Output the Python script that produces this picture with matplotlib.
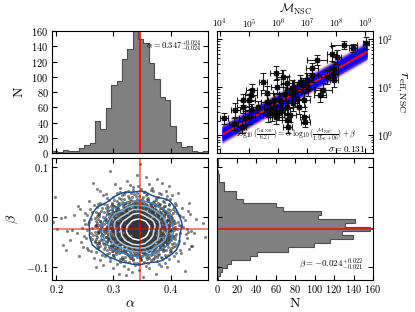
import numpy as np
import matplotlib.pyplot as plt

plt.rcParams['font.family'] = ['cmr10', 'DejaVu Serif']
plt.rcParams['mathtext.fontset'] = 'cm'
plt.rcParams['axes.formatter.use_mathtext'] = True
plt.rcParams['font.size'] = 7

# best fit + reference normalisation
alpha_fit, beta_fit, sigma_fit = 0.347, -0.024, 0.131
r_norm, m_norm = 6.27, 1.95e6

# marginal histograms of the posterior (counts)
alpha_counts = [3, 1, 4, 2, 3, 6, 11, 13, 42, 31, 59, 89, 95, 123, 137,
                162, 150, 144, 118, 97, 74, 70, 35, 15, 8, 9, 2, 1, 3]
alpha_range = (0.193, 0.465)
# ascending beta
beta_counts = [1, 3, 5, 10, 14, 34, 41, 73, 99, 116, 139, 128, 157, 131, 141,
               104, 107, 68, 60, 27, 19, 19, 7, 7, 2, 2, 1, 0, 1, 1]
beta_range = (-0.126, 0.118)

# NSC data (log10 mass, log10 r_eff) and errors in dex
log_mass = [9.03, 8.28, 8.58, 7.85, 8.02, 7.34, 7.16, 7.93, 7.68, 7.90,
            7.93, 5.48, 5.93, 6.17, 6.31, 5.96, 6.47, 6.76, 6.86, 7.03,
            5.09, 5.06, 5.01, 4.78, 4.53, 4.79, 5.06, 5.31, 5.61, 5.72,
            5.90, 6.07, 6.13, 6.30, 6.53, 6.67, 6.73, 6.90, 6.41, 6.30,
            6.33, 6.90, 6.94, 7.56, 7.45, 4.86, 5.01, 4.75, 4.48, 4.14,
            5.67, 5.78, 5.93, 6.03, 5.86, 5.61, 6.24, 6.59, 6.99, 7.16]
log_reff = [1.92, 1.88, 1.81, 1.70, 1.63, 1.56, 1.39, 1.37, 1.21, 1.27,
            1.15, 1.11, 1.29, 1.21, 1.08, 1.01, 0.99, 1.11, 1.04, 0.97,
            0.94, 0.83, 0.73, 0.74, 0.52, 0.58, 0.52, 0.59, 0.69, 0.52,
            0.59, 0.73, 0.52, 0.59, 0.66, 0.76, 0.59, 0.73, 0.42, 0.31,
            0.17, 0.38, 0.28, 0.94, 0.83, 0.35, 0.38, 0.17, 0.23, 0.35,
            0.42, 0.45, 0.38, 0.47, 0.73, 0.87, 0.85, 0.90, 1.15, 1.25]
log_mass_err = [0.10, 0.45, 0.15, 0.15, 0.15, 0.35, 0.20, 0.15, 0.20, 0.15,
                0.15, 0.15, 0.20, 0.20, 0.20, 0.20, 0.20, 0.20, 0.20, 0.20,
                0.20, 0.20, 0.20, 0.20, 0.15, 0.20, 0.20, 0.20, 0.20, 0.20,
                0.20, 0.20, 0.20, 0.20, 0.20, 0.20, 0.20, 0.20, 0.20, 0.15,
                0.15, 0.15, 0.15, 0.30, 0.20, 0.20, 0.20, 0.15, 0.15, 0.15,
                0.20, 0.20, 0.20, 0.20, 0.20, 0.20, 0.20, 0.20, 0.20, 0.20]
log_reff_err = [0.12, 0.08, 0.08, 0.15, 0.15, 0.10, 0.12, 0.15, 0.15, 0.12,
                0.15, 0.18, 0.15, 0.15, 0.15, 0.15, 0.15, 0.15, 0.15, 0.15,
                0.12, 0.12, 0.12, 0.12, 0.15, 0.12, 0.12, 0.12, 0.15, 0.15,
                0.15, 0.15, 0.15, 0.15, 0.15, 0.15, 0.15, 0.15, 0.15, 0.15,
                0.12, 0.12, 0.12, 0.15, 0.15, 0.15, 0.15, 0.12, 0.12, 0.12,
                0.15, 0.15, 0.15, 0.15, 0.15, 0.15, 0.15, 0.15, 0.15, 0.15]


def halton(n, base):
    out = np.zeros(n)
    for i in range(n):
        f, r, k = 1.0, 0.0, i + 1
        while k > 0:
            f /= base
            r += f * (k % base)
            k //= base
        out[i] = r
    return out


def inv_cdf(counts, lo, hi, u):
    edges = np.linspace(lo, hi, len(counts) + 1)
    cdf = np.concatenate([[0], np.cumsum(counts)]) / np.sum(counts)
    return np.interp(u, cdf, edges)


# posterior samples rebuilt from the two marginals
n_samp = int(np.sum(alpha_counts))
a_samp = inv_cdf(alpha_counts, *alpha_range, halton(n_samp, 2))
b_samp = inv_cdf(beta_counts, *beta_range, halton(n_samp, 3))

fig = plt.figure(figsize=(4.15, 3.12), dpi=100)
w, h = 0.376, 0.391
ax_a = fig.add_axes([0.1253, 0.5096, w, h])
ax_fit = fig.add_axes([0.5229, 0.5096, w, h])
ax_ab = fig.add_axes([0.1253, 0.1026, w, h])
ax_b = fig.add_axes([0.5229, 0.1026, w, h])

for ax in (ax_a, ax_fit, ax_ab, ax_b):
    ax.tick_params(direction='in', top=True, right=True, which='both',
                   labelsize=7.5, length=3.5, pad=2.5)
    ax.tick_params(which='minor', length=1.8)

# alpha histogram
a_edges = np.linspace(*alpha_range, len(alpha_counts) + 1)
ax_a.stairs(alpha_counts, a_edges, fill=True, color='#808080')
ax_a.stairs(alpha_counts, a_edges, color='#4d4d4d', lw=0.8)
ax_a.axvline(alpha_fit, color='red', lw=1.2)
ax_a.set_xlim(alpha_range)
ax_a.set_ylim(0, 160)
ax_a.set_xticks([0.2, 0.3, 0.4])
ax_a.set_yticks(range(0, 161, 20))
ax_a.tick_params(labelbottom=False)
ax_a.set_ylabel('N', fontsize=10)
ax_a.text(0.6, 0.875, r'$\alpha = 0.347^{+0.024}_{-0.024}$', transform=ax_a.transAxes,
          fontsize=6.2, ha='left', va='center', zorder=5)

# beta histogram (horizontal)
b_edges = np.linspace(*beta_range, len(beta_counts) + 1)
ax_b.stairs(beta_counts, b_edges, fill=True, color='#808080', orientation='horizontal')
ax_b.stairs(beta_counts, b_edges, color='#4d4d4d', lw=0.8, orientation='horizontal')
ax_b.axhline(beta_fit, color='#d62728', lw=1.6)
ax_b.set_ylim(beta_range)
ax_b.set_xlim(0, 160)
ax_b.set_xticks(range(0, 161, 20))
ax_b.set_yticks([-0.1, 0.0, 0.1])
ax_b.tick_params(labelleft=False)
ax_b.set_xlabel('N', fontsize=10, labelpad=2)
ax_b.text(0.935, 0.13, r'$\beta = -0.024^{+0.022}_{-0.021}$', transform=ax_b.transAxes,
          fontsize=6.5, ha='right', va='center')

# alpha-beta scatter + contours
ax_ab.scatter(a_samp, b_samp, s=5, color='#333333', alpha=0.6, lw=0)
H, xe, ye = np.histogram2d(a_samp, b_samp, bins=[26, 26],
                           range=[alpha_range, beta_range])
k = np.array([1, 2, 1]) / 4.0
H = np.apply_along_axis(lambda v: np.convolve(v, k, mode='same'), 0, H)
H = np.apply_along_axis(lambda v: np.convolve(v, k, mode='same'), 1, H)
hs = np.sort(H.ravel())[::-1]
cs = np.cumsum(hs) / hs.sum()
fracs = [0.9, 0.75, 0.6, 0.45, 0.3, 0.15]
levels = sorted(hs[np.searchsorted(cs, f)] for f in fracs)
xc = 0.5 * (xe[1:] + xe[:-1])
yc = 0.5 * (ye[1:] + ye[:-1])
cols = ['#1f4f8f', '#3a7fc0', '#6fa6d6', '#a9c8e6', '#dde8f2', '#ffffff']
ax_ab.contour(xc, yc, H.T, levels=levels, colors=cols, linewidths=1.1)
ax_ab.axvline(alpha_fit, color='red', lw=1.2, alpha=0.6)
ax_ab.axhline(beta_fit, color='red', lw=1.2, alpha=0.6)
ax_ab.set_xlim(alpha_range)
ax_ab.set_ylim(beta_range)
ax_ab.set_xticks([0.2, 0.3, 0.4])
ax_ab.set_yticks([-0.1, 0.0, 0.1])
ax_ab.set_xlabel(r'$\alpha$', fontsize=10, labelpad=2)
ax_ab.set_ylabel(r'$\beta$', fontsize=10)

# size-mass relation
lm = np.array(log_mass)
lr = np.array(log_reff)
xm = np.linspace(lm.min() - 0.03, lm.max() + 0.03, 50)
base = np.log10(r_norm)
off = np.log10(m_norm)
for i in range(0, n_samp, 8):
    for s in (-1.0, -0.5, 0.0, 0.5, 1.0):
        yy = base + a_samp[i] * (xm - off) + b_samp[i] + s * sigma_fit * 0.9
        ax_fit.plot(10**xm, 10**yy, color='blue', alpha=0.035, lw=0.8)
for s in (-1.25, 1.25):
    for i in range(0, n_samp, 100):
        yy = base + a_samp[i] * (xm - off) + b_samp[i] + s * sigma_fit
        ax_fit.plot(10**xm, 10**yy, color='#ff6060', alpha=0.08, lw=0.6)
ax_fit.plot(10**xm, 10**(base + alpha_fit * (xm - off) + beta_fit), color='red', lw=1.5)

xerr = [10**lm - 10**(lm - np.array(log_mass_err)), 10**(lm + np.array(log_mass_err)) - 10**lm]
yerr = [10**lr - 10**(lr - np.array(log_reff_err)), 10**(lr + np.array(log_reff_err)) - 10**lr]
ax_fit.errorbar(10**lm, 10**lr, xerr=xerr, yerr=yerr, fmt='s', ms=2.5, color='k',
                ecolor='k', elinewidth=0.8, capsize=2, capthick=0.8, alpha=0.85)
ax_fit.set_xscale('log')
ax_fit.set_yscale('log')
ax_fit.set_xlim(10**3.9, 10**9.27)
ax_fit.set_ylim(10**-0.375, 10**2.17)
ax_fit.set_xticks([1e4, 1e5, 1e6, 1e7, 1e8, 1e9])
ax_fit.tick_params(labeltop=True, labelbottom=False, labelright=True, labelleft=False)
ax_fit.tick_params(axis='x', labelsize=6.8, pad=1)
ax_fit.xaxis.set_label_position('top')
ax_fit.yaxis.set_label_position('right')
ax_fit.set_xlabel(r'$\mathcal{M}_{\rm NSC}$', fontsize=8.5, labelpad=2.2)
ax_fit.set_ylabel(r'$r_{\rm eff,NSC}$', fontsize=10, rotation=270, labelpad=12)
ax_fit.text(0.12, 0.14,
            r'$\log_{10}(\frac{r_{\rm eff,NSC}}{6.27}) = \alpha\ \log_{10}(\frac{\mathcal{M}_{\rm NSC}}{1.95e+06}) + \beta$',
            transform=ax_fit.transAxes, fontsize=5.6, ha='left', va='center')
ax_fit.text(0.95, 0.035, r'$\sigma = 0.131$', transform=ax_fit.transAxes,
            fontsize=6.5, ha='right', va='center')

fig.savefig('out.png', dpi=100)
